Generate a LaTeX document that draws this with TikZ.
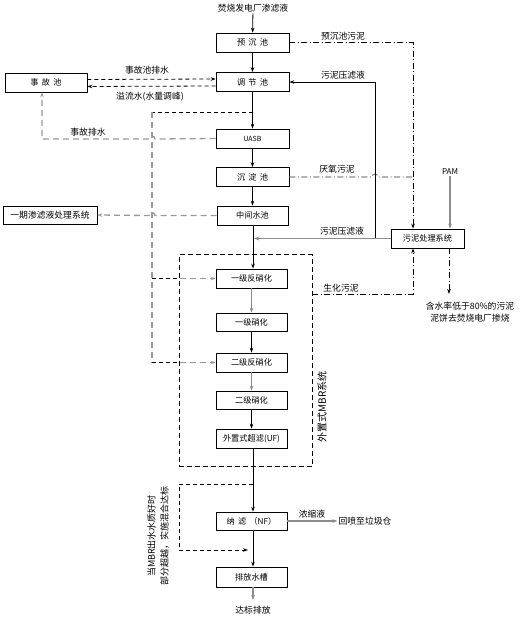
\documentclass[tikz,border=0pt]{standalone}
\usepackage{fontspec}
\newfontfamily\cjk{Noto Sans CJK SC}
\usetikzlibrary{arrows.meta}
\begin{document}
\begin{tikzpicture}[x=1pt,y=-1pt,
  every node/.style={font=\cjk\fontsize{8.2}{10}\selectfont, inner sep=1pt},
  box/.style={draw, line width=0.8pt, minimum width=73pt, minimum height=19pt, inner sep=0pt},
  arr/.style={-{Stealth[length=5pt,width=3.6pt]}},
  kline/.style={line width=0.8pt, black},
  gline/.style={line width=1.2pt, black!45},
  kdash/.style={line width=0.8pt, black, dash pattern=on 4pt off 3pt},
  gdash/.style={line width=1.3pt, black!40, dash pattern=on 6pt off 4pt},
  kdd/.style={line width=0.8pt, black, dash pattern=on 6pt off 2.5pt on 1pt off 2.5pt},
  gdd/.style={line width=1.1pt, black!45, dash pattern=on 6pt off 2.5pt on 1pt off 2.5pt},
  lbl/.style={font=\cjk\fontsize{8.8}{10}\selectfont}]
\useasboundingbox (0,0) rectangle (519,617);

% main column
\node[lbl] (src) at (253,8) {焚烧发电厂渗滤液};
\node[box] (yc) at (252.5,42.5) {预\,\ 沉\,\ 池};
\node[box] (tj) at (252.5,82) {调\,\ 节\,\ 池};
\node[box] (uasb) at (252.5,138.5) {\fontsize{7}{8}\selectfont UASB};
\node[box] (cd) at (252.5,177) {沉\,\ 淀\,\ 池};
\node[box,minimum width=71pt] (zj) at (252.5,215.5) {中间水池};
\node[box,minimum width=82pt] (sg) at (46,82.5) {事\,\ 故\,\ 池};
\node[box,minimum width=94pt,minimum height=18pt] (yq) at (50,215) {\fontsize{8.8}{10}\selectfont 一期渗滤液处理系统};
\node[box] (wn) at (427.5,238.5) {污泥处理系统};

\node[draw, line width=0.8pt, dash pattern=on 5pt off 3pt, minimum width=133pt, minimum height=212pt, inner sep=0pt] (mbr) at (245.5,360.5) {};
\node[font=\cjk\fontsize{10}{12}\selectfont, rotate=90] (mbrl) at (322,407) {外置式MBR系统};

\node[box,minimum width=71pt] (f1) at (251.5,278.5) {一级反硝化};
\node[box,minimum width=71pt,minimum height=18pt] (x1) at (251.5,322) {一级硝化};
\node[box,minimum width=71pt] (f2) at (251.5,362.5) {二级反硝化};
\node[box,minimum width=71pt,minimum height=18pt] (x2) at (251.5,400) {二级硝化};
\node[box,minimum width=71pt] (uf) at (251.5,438.5) {外置式超滤(UF)};
\node[box,minimum width=71pt,minimum height=18pt] (nf) at (251.5,521) {纳\,\ 滤\,\ （NF）};
\node[box,minimum width=71pt,minimum height=20pt] (pf) at (251.5,577) {排放水槽};
\node[lbl] (db) at (253,610) {达标排放};

\draw[kline,arr] (src) -- (yc);
\draw[kline,arr] (yc) -- (tj);
\draw[kline,arr] (tj) -- (uasb);
\draw[kline,arr] (uasb) -- (cd);
\draw[kline,arr] (cd) -- (zj);
\draw[kline,arr] (zj.south -| 253,0) -- (f1.north -| 253,0);
\draw[gline,arr] (f1) -- (x1);
\draw[kline,arr] (x1) -- (f2);
\draw[gline,arr] (f2) -- (x2);
\draw[kline,arr] (x2) -- (uf);
\draw[kline,arr] (uf.south -| 253,0) -- (nf.north -| 253,0);
\draw[kline,arr] (nf.south -| 253,0) -- (pf.north -| 253,0);
\coordinate (dbt) at (253,600);
\draw[gline,arr] (pf.south -| 253,0) -- (dbt);

% accident pool
\draw[kdash,arr] ([yshift=3pt]sg.east) -- ([yshift=3pt]tj.west);
\draw[kdash,arr] ([yshift=-4pt]tj.west) -- ([yshift=-4pt]sg.east);
\node[lbl] (l1) at (147,70) {事故池排水};
\node[lbl] (l2) at (150,97) {溢流水(水量调峰)};
\coordinate (s1) at (42,139);
\draw[gdash,arr] (uasb.west) -- (155,139) arc[start angle=0,end angle=-180,radius=3] -- (s1) -- (s1 |- sg.south);
\node[lbl] (l3) at (88,132) {事故排水};
\draw[gdash,arr] (zj.west) -- (155,215.5) arc[start angle=0,end angle=-180,radius=3] -- (yq.east);

% overflow branch to denitrification
\coordinate (b1) at (253,112);
\coordinate (b2) at (152,112);
\coordinate (b3) at (152,362.5);
\draw[kdash] (b1) -- (b2);
\draw[gdash] (b2) -- (b3);
\draw[kdash] (152,278.5) -- (180,278.5);
\draw[gdash,arr] (180,278.5) -- (f1.west);
\draw[kdash] (b3) -- (180,362.5);
\draw[gdash,arr] (180,362.5) -- (f2.west);

% sludge lines
\coordinate (c1) at (413,42.5);
\draw[kdd,arr] (yc.east) -- (c1) -- (c1 |- wn.north);
\node[lbl] (l4) at (343,36) {预沉池污泥};
\draw[gdd] (cd.east) -- (372,177) arc[start angle=180,end angle=360,radius=3] -- (413,177);
\node[lbl] (l5) at (337,169) {厌氧污泥};
\coordinate (v1) at (375,238.5);
\draw[kline,arr] (v1) -- (375,82) -- (tj.east);
\node[lbl] (l6) at (343,75) {污泥压滤液};
\coordinate (m1) at (254,238.5);
\draw[gline,arr] (wn.west) -- (m1);
\node[lbl] (l7) at (342,231) {污泥压滤液};
\coordinate (s2) at (413,294);
\draw[kdd,arr] (mbr.east |- s2) -- (s2) -- (s2 |- wn.south);
\node[lbl] (l8) at (341,288) {生化污泥};
\node[font=\cjk\fontsize{8}{9}\selectfont] (pam) at (450,172) {PAM};
\draw[gline,arr] (pam) -- (pam |- wn.north);
\coordinate (o1) at (449,294);
\draw[kdd,arr] (o1 |- wn.south) -- (o1);
\node[align=center, font=\cjk\fontsize{8.8}{11.5}\selectfont] (l9) at (470,312) {含水率低于80\%的污泥\\泥饼去焚烧电厂掺烧};

% bypass
\coordinate (p1) at (253,484);
\coordinate (p2) at (179,484);
\coordinate (p3) at (179,550);
\coordinate (p4) at (248,550);
\draw[kdash,arr] (p1) -- (p2) -- (p3) -- (p4);
\node[rotate=90, align=center, font=\cjk\fontsize{9}{13}\selectfont] (l10) at (158,536) {当MBR出水水质好时\\部分超越，实施混合达标};

% concentrate
\node[lbl] (hp) at (365,521) {回喷至垃圾仓};
\draw[gline,arr] (nf.east) -- (hp.west);
\node[lbl] (l11) at (312,514) {浓缩液};
\end{tikzpicture}
\end{document}
